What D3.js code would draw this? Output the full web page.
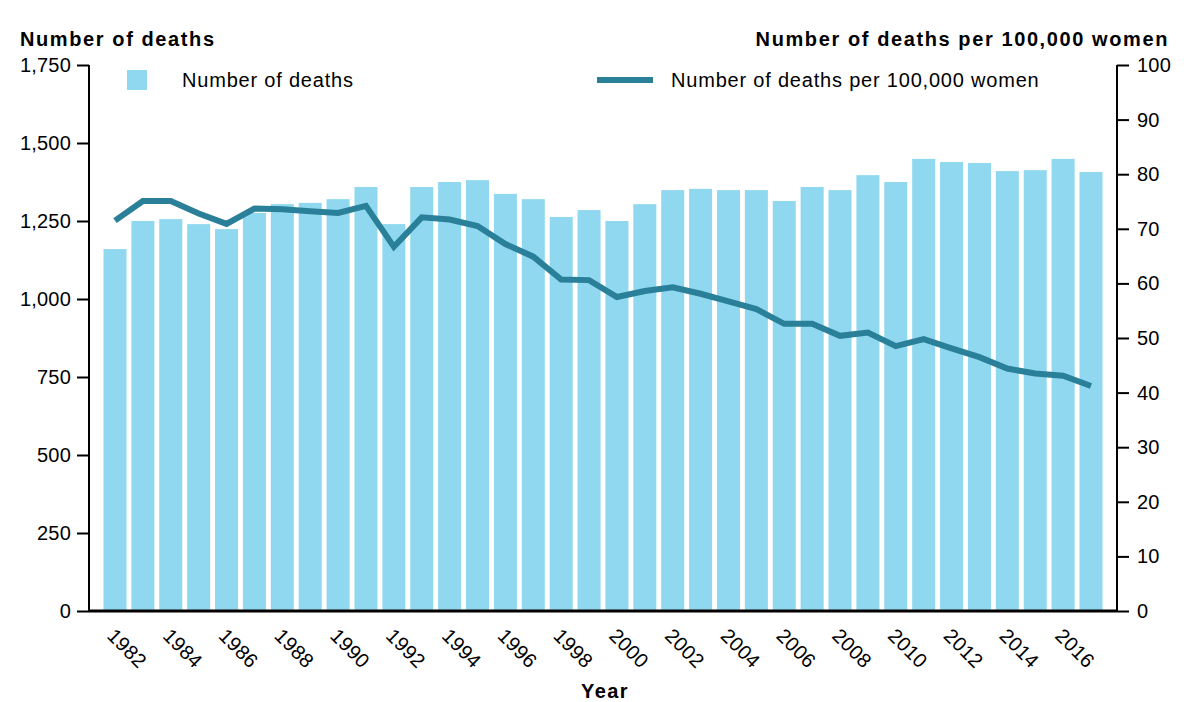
<!DOCTYPE html>
<html lang="en">
<head>
<meta charset="UTF-8">
<title>Deaths chart</title>
<style>
  body { margin: 0; background: #fff; }
  svg text { font-family: "Liberation Sans", Arial, sans-serif; fill: #000; }
</style>
</head>
<body>
<svg id="chart" width="1190" height="702"></svg>
<script src="https://cdn.jsdelivr.net/npm/d3@7"></script>
<script>
  // data
  let years = d3.range(1982, 2018)
  let deaths = [1160, 1250, 1256, 1240, 1224, 1276, 1304, 1308, 1320, 1359,
                1240, 1359, 1375, 1381, 1337, 1320, 1263, 1285, 1250, 1304,
                1349, 1353, 1349, 1349, 1314, 1359, 1349, 1397, 1375, 1449,
                1439, 1436, 1410, 1413, 1449, 1407]
  let rates = [71.5, 75.1, 75.1, 72.8, 70.9, 73.7, 73.6, 73.2, 72.9, 74.2,
               66.7, 72.1, 71.7, 70.5, 67.2, 64.9, 60.7, 60.6, 57.5, 58.6,
               59.3, 58.1, 56.7, 55.3, 52.6, 52.6, 50.4, 51.0, 48.5, 49.8,
               48.1, 46.5, 44.4, 43.5, 43.1, 41.2]
  let leftTicks = [0, 250, 500, 750, 1000, 1250, 1500, 1750]
  let rightTicks = [0, 10, 20, 30, 40, 50, 60, 70, 80, 90, 100]
  let yearLabels = years.filter(y => y % 2 === 0)

  let svg = d3.select("#chart")
  let plotLeft = 89, plotRight = 1117, plotTop = 65, plotBottom = 611

  let x = d3.scaleBand()
    .domain(years)
    .range([plotLeft, plotRight])
    .paddingInner(0.175)
    .paddingOuter(0.52)

  let yLeft = d3.scaleLinear().domain([0, 1750]).range([plotBottom, plotTop])
  let yRight = d3.scaleLinear().domain([0, 100]).range([plotBottom, plotTop])

  // bars
  svg.append("g").selectAll("rect").data(deaths)
    .enter().append("rect")
    .attr("x", (d, i) => x(years[i]))
    .attr("width", x.bandwidth())
    .attr("y", d => yLeft(d))
    .attr("height", d => plotBottom - yLeft(d))
    .attr("fill", "#8fd8f0")

  // line
  let line = d3.line()
    .x((d, i) => x(years[i]) + x.bandwidth() / 2)
    .y(d => yRight(d))

  svg.append("path")
    .datum(rates)
    .attr("d", line)
    .attr("fill", "none")
    .attr("stroke", "#2a7f99")
    .attr("stroke-width", 6)

  // left axis
  let gl = svg.append("g")
    .attr("transform", `translate(${plotLeft},0)`)
    .call(d3.axisLeft(yLeft).tickValues(leftTicks).tickSize(12).tickPadding(6)
      .tickFormat(d3.format(",")))
  gl.attr("font-family", null).attr("font-size", null)
  gl.select(".domain").attr("d", `M0,${plotTop}V${plotBottom}`).attr("stroke-width", 2)
  gl.selectAll(".tick line").attr("stroke-width", 2)
  gl.selectAll(".tick text").attr("font-size", 20).attr("letter-spacing", 0.2)

  // right axis
  let gr = svg.append("g")
    .attr("transform", `translate(${plotRight},0)`)
    .call(d3.axisRight(yRight).tickValues(rightTicks).tickSize(12).tickPadding(8))
  gr.attr("font-family", null).attr("font-size", null)
  gr.select(".domain").attr("d", `M0,${plotTop}V${plotBottom}`).attr("stroke-width", 2)
  gr.selectAll(".tick line").attr("stroke-width", 2)
  gr.selectAll(".tick text").attr("font-size", 20).attr("letter-spacing", 0.2)

  // x axis line
  svg.append("line")
    .attr("x1", plotLeft).attr("x2", plotRight)
    .attr("y1", plotBottom).attr("y2", plotBottom)
    .attr("stroke", "#000").attr("stroke-width", 3)

  // year labels, rotated
  svg.append("g").selectAll("text").data(yearLabels)
    .enter().append("text")
    .attr("transform", d => `translate(${x(d) + x.bandwidth() / 2 - 9},${plotBottom + 26}) rotate(45)`)
    .attr("font-size", 20)
    .attr("letter-spacing", 0.3)
    .text(d => d)

  // titles
  svg.append("text")
    .attr("x", 20).attr("y", 46)
    .attr("font-size", 20).attr("font-weight", "bold")
    .attr("letter-spacing", 1.6)
    .text("Number of deaths")

  svg.append("text")
    .attr("x", 1169).attr("y", 46)
    .attr("text-anchor", "end")
    .attr("font-size", 20).attr("font-weight", "bold")
    .attr("letter-spacing", 1.6)
    .text("Number of deaths per 100,000 women")

  svg.append("text")
    .attr("x", 605).attr("y", 698)
    .attr("text-anchor", "middle")
    .attr("font-size", 20).attr("font-weight", "bold")
    .attr("letter-spacing", 1.4)
    .text("Year")

  // legend
  svg.append("rect")
    .attr("x", 127).attr("y", 70).attr("width", 20).attr("height", 20)
    .attr("fill", "#8fd8f0")
  svg.append("text")
    .attr("x", 182).attr("y", 87).attr("font-size", 20)
    .attr("letter-spacing", 0.8)
    .text("Number of deaths")

  svg.append("line")
    .attr("x1", 597).attr("x2", 653).attr("y1", 80).attr("y2", 80)
    .attr("stroke", "#2a7f99").attr("stroke-width", 6)
  svg.append("text")
    .attr("x", 671).attr("y", 87).attr("font-size", 20)
    .attr("letter-spacing", 0.8)
    .text("Number of deaths per 100,000 women")
</script>
</body>
</html>
